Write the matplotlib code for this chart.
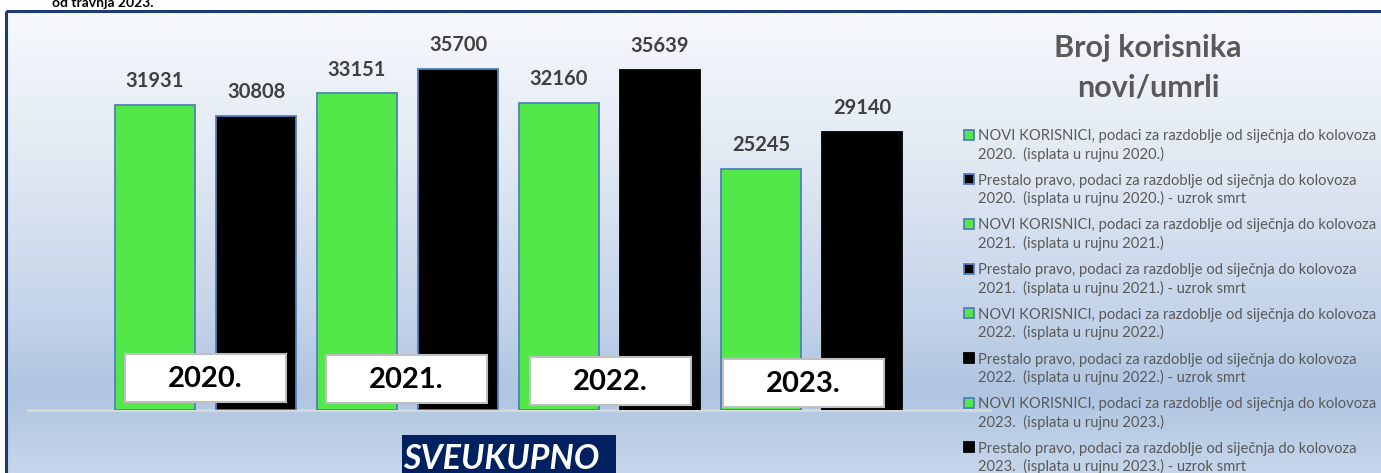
import matplotlib.pyplot as plt
import numpy as np
from matplotlib.patches import Rectangle

plt.rcParams['font.family'] = ['Lato', 'DejaVu Sans']

# podaci po seriji (svaka serija jedan stupac)
series_labels = [
    'NOVI KORISNICI, podaci za razdoblje od siječnja do kolovoza\n2020.  (isplata u rujnu 2020.)',
    'Prestalo pravo, podaci za razdoblje od siječnja do kolovoza\n2020.  (isplata u rujnu 2020.) - uzrok smrt',
    'NOVI KORISNICI, podaci za razdoblje od siječnja do kolovoza\n2021.  (isplata u rujnu 2021.)',
    'Prestalo pravo, podaci za razdoblje od siječnja do kolovoza\n2021.  (isplata u rujnu 2021.) - uzrok smrt',
    'NOVI KORISNICI, podaci za razdoblje od siječnja do kolovoza\n2022.  (isplata u rujnu 2022.)',
    'Prestalo pravo, podaci za razdoblje od siječnja do kolovoza\n2022.  (isplata u rujnu 2022.) - uzrok smrt',
    'NOVI KORISNICI, podaci za razdoblje od siječnja do kolovoza\n2023.  (isplata u rujnu 2023.)',
    'Prestalo pravo, podaci za razdoblje od siječnja do kolovoza\n2023.  (isplata u rujnu 2023.) - uzrok smrt',
]
values = [31931, 30808, 33151, 35700, 32160, 35639, 25245, 29140]
years = ['2020.', '2021.', '2022.', '2023.']

GREEN = '#52e84a'
EDGE = '#4f81bd'
bar_colors = [GREEN, 'black', GREEN, 'black', GREEN, 'black', GREEN, 'black']
bar_edges = [EDGE, EDGE, EDGE, EDGE, EDGE, 'black', EDGE, 'black']

W, H = 1381, 473
fig = plt.figure(figsize=(W / 100, H / 100), dpi=100)

# pozadina s gradijentom
bg = fig.add_axes([0, 0, 1, 1], zorder=0)
bg.set_xlim(0, W)
bg.set_ylim(H, 0)
bg.axis('off')
ys = np.arange(H)
stops = [11, 150, 300, 390, 473]
rgb = np.array([[245, 248, 252], [226, 233, 243], [198, 213, 234],
                [175, 197, 225], [198, 214, 235]]) / 255
grad = np.stack([np.interp(ys, stops, rgb[:, c]) for c in range(3)], axis=1)
img = np.repeat(grad[:, None, :], 2, axis=1)
bg.imshow(img, extent=[6, W + 5, H, 11], aspect='auto', zorder=0)
bg.add_patch(Rectangle((6.5, 11), W, H, fill=False, edgecolor='#1f3a70',
                       lw=2.2, zorder=2))
bg.plot([28, 990], [410, 410], color='#d9d9d9', lw=2, zorder=1)
bg.text(52, 7, 'od travnja 2023.', fontsize=10, fontweight='bold',
        color='black', va='baseline')

# stupci
ax = fig.add_axes([104.5 / W, 63 / H, 808 / W, 382 / H], zorder=1)
ax.patch.set_alpha(0)
x = np.arange(len(values))
bars = ax.bar(x, values, width=0.79, color=bar_colors, edgecolor=bar_edges,
              linewidth=1.3)
ax.set_xlim(-0.5, 7.5)
ax.set_ylim(0, 40000)
ax.axis('off')
for b, v in zip(bars, values):
    ax.annotate(str(v), (b.get_x() + b.get_width() / 2, v),
                xytext=(0, 10), textcoords='offset points', ha='center',
                va='bottom', fontsize=14.5, fontweight='bold', color='#404040')

# natpisi godina, legenda, naslov
ov = fig.add_axes([0, 0, 1, 1], zorder=2)
ov.set_xlim(0, W)
ov.set_ylim(H, 0)
ov.axis('off')
ov.patch.set_alpha(0)

box_x = [125, 326, 530, 723]
box_y = [354, 355, 357, 359]
for yr, bx, by in zip(years, box_x, box_y):
    ov.add_patch(Rectangle((bx, by), 161, 48, facecolor='white',
                           edgecolor='#bfbfbf', lw=1.5))
    ov.text(bx + 80.5, by + 25, yr, ha='center', va='center', fontsize=21,
            fontweight='bold', color='black')

ov.add_patch(Rectangle((402, 435), 214, 45, facecolor='#002060',
                       edgecolor='none'))
ov.text(501, 459, 'SVEUKUPNO', ha='center', va='center', fontsize=24.5,
        fontweight='bold', fontstyle='italic', color='white')

ov.text(1148, 57, 'Broj korisnika', ha='center', va='baseline', fontsize=22,
        fontweight='bold', color='#595959')
ov.text(1148, 96, 'novi/umrli', ha='center', va='baseline', fontsize=22,
        fontweight='bold', color='#595959')

for i, lab in enumerate(series_labels):
    base = 140 + i * 44.7
    ov.add_patch(Rectangle((964.5, base - 10.5), 10, 10,
                           facecolor=bar_colors[i], edgecolor=bar_edges[i],
                           lw=1.3))
    line1, line2 = lab.split('\n')
    ov.text(978, base, line1, fontsize=10.6, color='#595959', va='baseline')
    ov.text(978, base + 18.5, line2, fontsize=10.6, color='#595959',
            va='baseline')

fig.savefig('out.png', dpi=100)
